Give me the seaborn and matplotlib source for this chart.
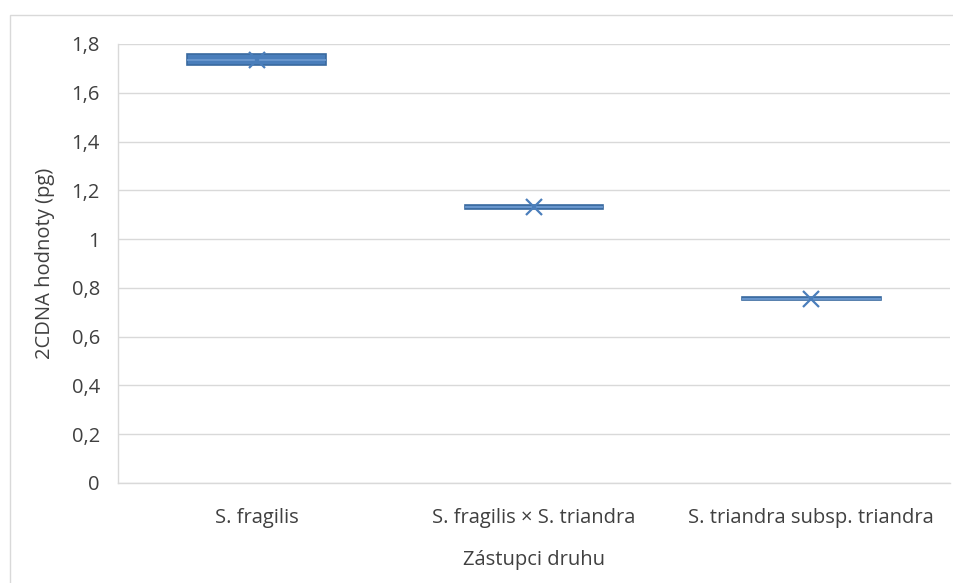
import pandas as pd
import matplotlib.pyplot as plt
import seaborn as sns
from matplotlib.patches import Rectangle
from matplotlib.ticker import FuncFormatter

# data (2C DNA values in pg)
categories = ["S. fragilis", "S. fragilis × S. triandra", "S. triandra subsp. triandra"]
fragilis = [1.714, 1.714, 1.736, 1.758, 1.758]
hybrid = [1.123, 1.123, 1.132, 1.141, 1.141]
triandra = [0.749, 0.749, 0.756, 0.763, 0.763]
y_ticks = [0, 0.2, 0.4, 0.6, 0.8, 1.0, 1.2, 1.4, 1.6, 1.8]

df = pd.DataFrame({
    "druh": [categories[0]] * len(fragilis) + [categories[1]] * len(hybrid)
            + [categories[2]] * len(triandra),
    "hodnota": fragilis + hybrid + triandra,
})

sns.set_theme(style="white")
plt.rcParams['font.family'] = ['Open Sans', 'DejaVu Sans']

fig = plt.figure(figsize=(9.54, 5.83), dpi=100)
ax = fig.add_axes([118 / 954, 1 - 483 / 583, 832 / 954, (483 - 44) / 583])

# outer chart border
fig.patches.append(Rectangle((10 / 954, -0.1), 1.1, 1 - 15 / 583 + 0.1,
                             transform=fig.transFigure, fill=False,
                             edgecolor="#D9D9D9", linewidth=1))

blue = "#4A7EBB"
sns.boxplot(data=df, x="druh", y="hodnota", order=categories, ax=ax,
            width=0.5, color=blue, saturation=1, showcaps=False,
            showmeans=True, whis=0, fliersize=0,
            boxprops=dict(facecolor=blue, edgecolor="#3A6A9F", linewidth=1.2),
            medianprops=dict(color="#6F9BD1", linewidth=1.2),
            whiskerprops=dict(color=blue, linewidth=0),
            meanprops=dict(marker="x", markeredgecolor="#4A7EBB",
                           markersize=12, markeredgewidth=1.6))

ax.set_ylim(0, 1.8)
ax.set_xlim(-0.5, 2.5)
ax.set_yticks(y_ticks)
ax.yaxis.set_major_formatter(FuncFormatter(
    lambda v, p: ("%g" % round(v, 1)).replace(".", ",")))
ax.yaxis.grid(True, color="#D9D9D9", linewidth=1)
ax.set_axisbelow(True)
for s in ["top", "right"]:
    ax.spines[s].set_visible(False)
for s in ["left", "bottom"]:
    ax.spines[s].set_color("#D9D9D9")
    ax.spines[s].set_linewidth(1)
fs = 14.5
ax.tick_params(axis="both", length=0, labelsize=fs, colors="#404040")
ax.tick_params(axis="y", pad=13)
ax.tick_params(axis="x", pad=18)
ax.set_xlabel("Zástupci druhu", fontsize=fs, color="#404040", labelpad=16)
ax.set_ylabel("2CDNA hodnoty (pg)", fontsize=fs, color="#404040", labelpad=12)

fig.savefig("out.png", dpi=100)
